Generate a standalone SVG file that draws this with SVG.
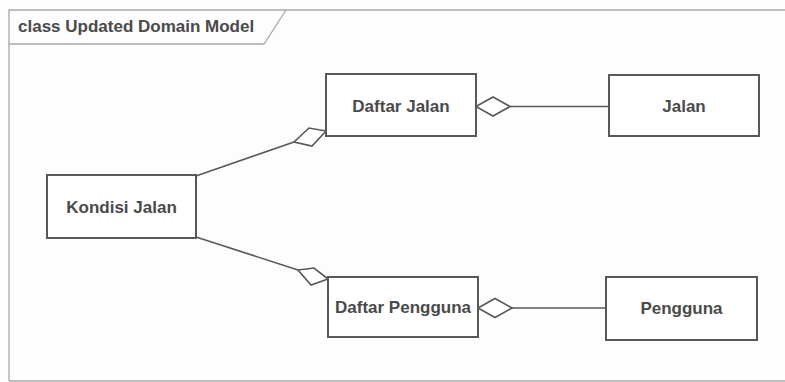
<svg xmlns="http://www.w3.org/2000/svg" width="785" height="382" viewBox="0 0 785 382">
  <style>
    .frame { fill: none; stroke: #a9a9a9; stroke-width: 1.3; }
    .box { fill: #ffffff; stroke: #555a58; stroke-width: 2; }
    .label { font-family: "Liberation Sans", Arial, sans-serif; font-weight: bold; font-size: 17px; fill: #4a4a4a; text-anchor: middle; }
    .title { font-family: "Liberation Sans", Arial, sans-serif; font-weight: bold; font-size: 17px; fill: #4a4a4a; }
    .link { fill: none; stroke: #555a58; stroke-width: 1.6; }
    .agg { fill: #ffffff; stroke: #555a58; stroke-width: 1.6; stroke-linejoin: miter; }
  </style>

  <rect x="0" y="0" width="785" height="382" fill="#fdfdfd"/>

  <!-- diagram frame with name tab -->
  <g id="frame">
    <path class="frame" d="M9,381 V10 H790 M9,381 H790"/>
    <path class="frame" d="M9,44 H264 L286,10"/>
    <text class="title" x="18" y="32">class Updated Domain Model</text>
  </g>

  <!-- aggregation connectors (hollow diamond at the whole end) -->
  <g id="connectors">
    <!-- Kondisi Jalan — Daftar Jalan -->
    <line class="link" x1="196" y1="176" x2="294" y2="142"/>
    <polygon class="agg" points="326,131 309,128 294,142 312,146"/>
    <!-- Kondisi Jalan — Daftar Pengguna -->
    <line class="link" x1="196" y1="237" x2="298" y2="270"/>
    <polygon class="agg" points="328,279 314,268 298,270 311,285"/>
    <!-- Daftar Jalan — Jalan -->
    <line class="link" x1="510" y1="106.5" x2="609" y2="106.5"/>
    <polygon class="agg" points="476,106.5 493,97 510,106.5 493,116"/>
    <!-- Daftar Pengguna — Pengguna -->
    <line class="link" x1="512" y1="308" x2="606" y2="308"/>
    <polygon class="agg" points="478,308 495,298.5 512,308 495,317.5"/>
  </g>

  <g id="kondisi-jalan">
    <rect class="box" x="47" y="175" width="149" height="63"/>
    <text class="label" x="121.5" y="212.5">Kondisi Jalan</text>
  </g>

  <g id="daftar-jalan">
    <rect class="box" x="326" y="74" width="150" height="62"/>
    <text class="label" x="401" y="111.5">Daftar Jalan</text>
  </g>

  <g id="jalan">
    <rect class="box" x="609" y="75" width="150" height="61"/>
    <text class="label" x="684" y="112">Jalan</text>
  </g>

  <g id="daftar-pengguna">
    <rect class="box" x="328" y="277" width="150" height="60"/>
    <text class="label" x="403" y="313">Daftar Pengguna</text>
  </g>

  <g id="pengguna">
    <rect class="box" x="606" y="277" width="151" height="63"/>
    <text class="label" x="681.5" y="314">Pengguna</text>
  </g>
</svg>
